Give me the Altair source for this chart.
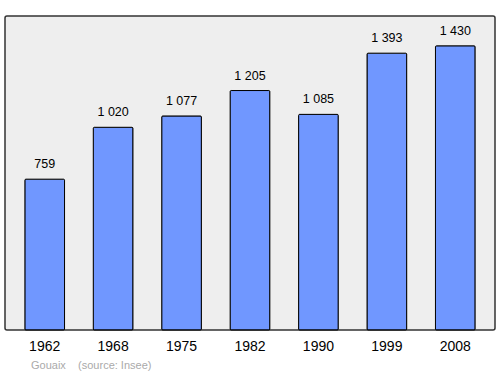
import altair as alt
import pandas as pd

years = ["1962", "1968", "1975", "1982", "1990", "1999", "2008"]
population = [759, 1020, 1077, 1205, 1085, 1393, 1430]
labels = ["759", "1 020", "1 077", "1 205", "1 085", "1 393", "1 430"]

df = pd.DataFrame({"year": years, "pop": population, "label": labels})

x = alt.X("year:N", sort=years, title=None,
          scale=alt.Scale(paddingInner=0.42, paddingOuter=0.29),
          axis=alt.Axis(labelAngle=0, ticks=False, domain=False, labelFontSize=14,
                        labelFont="Liberation Sans", labelColor="#000000", labelPadding=9))
y = alt.Y("pop:Q", scale=alt.Scale(domain=[0, 1580], nice=False), axis=None)

bars = alt.Chart(df).mark_bar(color="#7097ff", stroke="#000000", strokeWidth=1,
                              cornerRadius=1).encode(x=x, y=y)
text = alt.Chart(df).mark_text(baseline="bottom", dy=-8, fontSize=12.5,
                               font="Liberation Sans", color="#000000").encode(
    x=x, y=y, text="label:N")

chart = (bars + text).properties(
    width=490, height=314,
    padding={"left": 5, "top": 16, "right": 5, "bottom": 44},
    autosize=alt.AutoSizeParams(type="none"),
    background="#ffffff",
    title=alt.TitleParams("Gouaix\u00a0\u00a0\u00a0\u00a0(source: Insee)", orient="bottom",
                          anchor="start", dx=26, offset=7, fontSize=11,
                          font="Liberation Sans", fontWeight="normal", color="#aaaaaa"),
).configure_view(fill="#eeeeee", stroke="#333333", strokeWidth=1.5, cornerRadius=2)

chart.save("out.html", embed_options={"renderer": "svg", "actions": False})
